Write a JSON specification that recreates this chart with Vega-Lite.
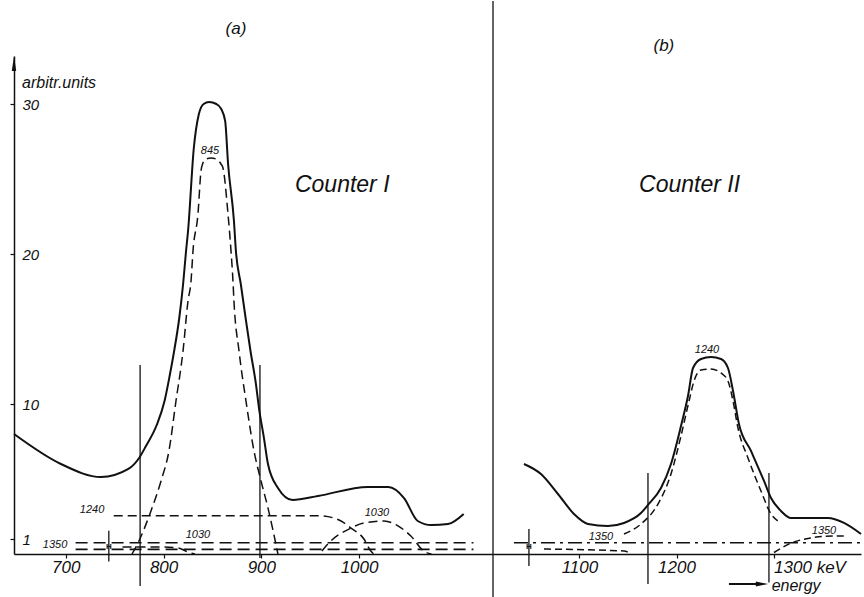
{
  "$schema": "https://vega.github.io/schema/vega-lite/v6.json",
  "background": "white",
  "padding": {"left": 9, "top": 0, "right": 0, "bottom": 0},
  "spacing": 0,
  "bounds": "flush",
  "config": {
    "view": {"stroke": null},
    "font": "Liberation Sans",
    "axis": {"grid": false, "domainColor": "#111", "domainWidth": 1.5, "tickColor": "#111", "tickWidth": 1.2, "labelColor": "#111", "labelFont": "Liberation Sans", "labelFontStyle": "italic", "title": null}
  },
  "datasets": {
    "a_lines": [
      {"s": "total", "x": 647, "y": 8.0}, {"s": "total", "x": 695, "y": 6.0}, {"s": "total", "x": 736, "y": 5.13},
      {"s": "total", "x": 764, "y": 5.67}, {"s": "total", "x": 775, "y": 6.4}, {"s": "total", "x": 782, "y": 7.2},
      {"s": "total", "x": 793, "y": 8.6}, {"s": "total", "x": 801, "y": 10.2}, {"s": "total", "x": 806, "y": 11.8}, {"s": "total", "x": 811, "y": 13.6},
      {"s": "total", "x": 816, "y": 15.7}, {"s": "total", "x": 820, "y": 18.0}, {"s": "total", "x": 823, "y": 20.2},
      {"s": "total", "x": 825, "y": 21.5}, {"s": "total", "x": 831, "y": 27.1}, {"s": "total", "x": 836, "y": 29.3},
      {"s": "total", "x": 841, "y": 30.0}, {"s": "total", "x": 846.5, "y": 30.13}, {"s": "total", "x": 854, "y": 30.0},
      {"s": "total", "x": 859, "y": 29.67}, {"s": "total", "x": 863, "y": 28.87}, {"s": "total", "x": 866, "y": 26.0},
      {"s": "total", "x": 872, "y": 22.2}, {"s": "total", "x": 874, "y": 20.2}, {"s": "total", "x": 879, "y": 18.0},
      {"s": "total", "x": 884, "y": 15.7}, {"s": "total", "x": 889, "y": 13.5}, {"s": "total", "x": 894.5, "y": 11.33},
      {"s": "total", "x": 897.6, "y": 9.73}, {"s": "total", "x": 902.7, "y": 7.73}, {"s": "total", "x": 906.8, "y": 6.0},
      {"s": "total", "x": 917, "y": 4.4}, {"s": "total", "x": 932, "y": 3.6}, {"s": "total", "x": 958, "y": 3.87},
      {"s": "total", "x": 1009, "y": 4.47}, {"s": "total", "x": 1030, "y": 4.47}, {"s": "total", "x": 1046, "y": 3.73},
      {"s": "total", "x": 1060, "y": 2.2}, {"s": "total", "x": 1074, "y": 1.93}, {"s": "total", "x": 1091, "y": 2.0},
      {"s": "total", "x": 1107, "y": 2.67},
      {"s": "c845", "x": 767.7, "y": 0}, {"s": "c845", "x": 773.8, "y": 0.73}, {"s": "c845", "x": 787.1, "y": 2.87},
      {"s": "c845", "x": 797.4, "y": 4.87}, {"s": "c845", "x": 805.5, "y": 6.87}, {"s": "c845", "x": 812.7, "y": 10.2},
      {"s": "c845", "x": 819.9, "y": 13.53}, {"s": "c845", "x": 825, "y": 16.87}, {"s": "c845", "x": 828.1, "y": 18.2},
      {"s": "c845", "x": 830.1, "y": 20.2}, {"s": "c845", "x": 835.2, "y": 22.67}, {"s": "c845", "x": 838.3, "y": 25.53},
      {"s": "c845", "x": 840.3, "y": 26.07}, {"s": "c845", "x": 843.4, "y": 26.33}, {"s": "c845", "x": 848.5, "y": 26.4},
      {"s": "c845", "x": 853.6, "y": 26.33}, {"s": "c845", "x": 858.7, "y": 26.0}, {"s": "c845", "x": 860.8, "y": 25.73},
      {"s": "c845", "x": 865.9, "y": 22.67}, {"s": "c845", "x": 869, "y": 20.2}, {"s": "c845", "x": 871, "y": 18.2},
      {"s": "c845", "x": 872, "y": 16.87}, {"s": "c845", "x": 877.2, "y": 13.53}, {"s": "c845", "x": 884.3, "y": 10.2},
      {"s": "c845", "x": 892.5, "y": 6.87}, {"s": "c845", "x": 899.7, "y": 4.87}, {"s": "c845", "x": 906.8, "y": 3.07},
      {"s": "c845", "x": 917, "y": 0},
      {"s": "c1240", "x": 749, "y": 2.55}, {"s": "c1240", "x": 850, "y": 2.55}, {"s": "c1240", "x": 960, "y": 2.55},
      {"s": "c1240", "x": 981.5, "y": 2.2}, {"s": "c1240", "x": 991.7, "y": 1.73}, {"s": "c1240", "x": 1005, "y": 1.0},
      {"s": "c1240", "x": 1012, "y": 0.2}, {"s": "c1240", "x": 1015, "y": 0},
      {"s": "c1030hi", "x": 962, "y": 0.2}, {"s": "c1030hi", "x": 969, "y": 0.73}, {"s": "c1030hi", "x": 991.7, "y": 1.73},
      {"s": "c1030hi", "x": 1005, "y": 2.07}, {"s": "c1030hi", "x": 1025.5, "y": 2.2}, {"s": "c1030hi", "x": 1039.8, "y": 1.87},
      {"s": "c1030hi", "x": 1053, "y": 1.2}, {"s": "c1030hi", "x": 1066, "y": 0.2}, {"s": "c1030hi", "x": 1074, "y": 0},
      {"s": "c1030lo", "x": 758, "y": 0.47}, {"s": "c1030lo", "x": 800, "y": 0.47}, {"s": "c1030lo", "x": 815, "y": 0.4},
      {"s": "c1030lo", "x": 825, "y": 0.13}, {"s": "c1030lo", "x": 832, "y": 0},
      {"s": "base1", "x": 710, "y": 0.75}, {"s": "base1", "x": 1117, "y": 0.75},
      {"s": "base2", "x": 710, "y": 0.31}, {"s": "base2", "x": 1117, "y": 0.31}
    ],
    "a_rules": [
      {"x": 776, "y": -2.13, "y2": 12.6},
      {"x": 898.6, "y": -0.27, "y2": 12.6},
      {"x": 744, "y": -0.5, "y2": 1.55}
    ],
    "a_text": [
      {"role": "small", "t": "845", "x": 847.5, "y": 26.9},
      {"role": "small", "t": "1240", "x": 726.8, "y": 2.93},
      {"role": "small", "t": "1350", "x": 689, "y": 0.6},
      {"role": "small", "t": "1030", "x": 835.2, "y": 1.27},
      {"role": "small", "t": "1030", "x": 1018.3, "y": 2.73},
      {"role": "h", "t": "H", "x": 744, "y": 0.45},
      {"role": "panel", "t": "(a)", "x": 874, "y": 35.03},
      {"role": "unit", "t": "arbitr.units", "x": 655.2, "y": 31.4},
      {"role": "counter", "t": "Counter I", "x": 934.4, "y": 24.6}
    ],
    "a_arrow": [{"x": 647, "y": 32.7}],
    "b_lines": [
      {"s": "total", "x": 1042.9, "y": 6.0}, {"s": "total", "x": 1060.4, "y": 5.33}, {"s": "total", "x": 1077.9, "y": 4.0},
      {"s": "total", "x": 1094.4, "y": 2.67}, {"s": "total", "x": 1108.8, "y": 2.0}, {"s": "total", "x": 1129.4, "y": 1.87},
      {"s": "total", "x": 1145.9, "y": 2.07}, {"s": "total", "x": 1163.4, "y": 2.73}, {"s": "total", "x": 1170.6, "y": 3.27},
      {"s": "total", "x": 1184, "y": 4.4}, {"s": "total", "x": 1194.3, "y": 6.0}, {"s": "total", "x": 1204.6, "y": 8.53},
      {"s": "total", "x": 1211.8, "y": 10.53}, {"s": "total", "x": 1217, "y": 12.4}, {"s": "total", "x": 1225.2, "y": 13.0},
      {"s": "total", "x": 1235.5, "y": 13.13}, {"s": "total", "x": 1245.8, "y": 13.0}, {"s": "total", "x": 1253, "y": 12.4},
      {"s": "total", "x": 1258.2, "y": 10.87}, {"s": "total", "x": 1264.3, "y": 8.67}, {"s": "total", "x": 1276.7, "y": 6.87},
      {"s": "total", "x": 1290.1, "y": 4.87}, {"s": "total", "x": 1297.3, "y": 3.73}, {"s": "total", "x": 1307.6, "y": 2.87},
      {"s": "total", "x": 1317.9, "y": 2.4}, {"s": "total", "x": 1335.4, "y": 2.4}, {"s": "total", "x": 1356, "y": 2.4},
      {"s": "total", "x": 1372.5, "y": 2.07}, {"s": "total", "x": 1390, "y": 1.33},
      {"s": "c1240", "x": 1145.9, "y": 1.33}, {"s": "c1240", "x": 1163.4, "y": 2.0}, {"s": "c1240", "x": 1180.9, "y": 3.33},
      {"s": "c1240", "x": 1194.3, "y": 5.33}, {"s": "c1240", "x": 1204.6, "y": 7.87}, {"s": "c1240", "x": 1212.9, "y": 10.2},
      {"s": "c1240", "x": 1218, "y": 11.53}, {"s": "c1240", "x": 1225.2, "y": 12.27}, {"s": "c1240", "x": 1235.5, "y": 12.33},
      {"s": "c1240", "x": 1245.8, "y": 12.07}, {"s": "c1240", "x": 1253, "y": 11.53}, {"s": "c1240", "x": 1258.2, "y": 10.2},
      {"s": "c1240", "x": 1263.3, "y": 8.4}, {"s": "c1240", "x": 1273.6, "y": 6.4}, {"s": "c1240", "x": 1287, "y": 4.2},
      {"s": "c1240", "x": 1297.3, "y": 2.67}, {"s": "c1240", "x": 1304.5, "y": 2.2},
      {"s": "lvl1350", "x": 1032.6, "y": 0.75}, {"s": "lvl1350", "x": 1390, "y": 0.75},
      {"s": "c1350l", "x": 1063.5, "y": 0.33}, {"s": "c1350l", "x": 1145.9, "y": 0.2}, {"s": "c1350l", "x": 1153, "y": 0},
      {"s": "c1350r", "x": 1300.4, "y": 0.1}, {"s": "c1350r", "x": 1317.9, "y": 0.73}, {"s": "c1350r", "x": 1338.5, "y": 1.07},
      {"s": "c1350r", "x": 1361, "y": 1.2}, {"s": "c1350r", "x": 1376, "y": 1.2}
    ],
    "b_rules": [
      {"x": 1011, "y": -2.93, "y2": 36.87},
      {"x": 1170.6, "y": -2.0, "y2": 5.4},
      {"x": 1295.2, "y": -1.9, "y2": 5.4},
      {"x": 1048, "y": -0.8, "y2": 1.67}
    ],
    "b_text": [
      {"role": "small", "t": "1240", "x": 1231.4, "y": 13.6},
      {"role": "small", "t": "1350", "x": 1122.2, "y": 1.13},
      {"role": "small", "t": "1350", "x": 1351.9, "y": 1.53},
      {"role": "h", "t": "H", "x": 1048, "y": 0.45},
      {"role": "panel", "t": "(b)", "x": 1187, "y": 33.9},
      {"role": "counter", "t": "Counter II", "x": 1161.4, "y": 24.6},
      {"role": "energy", "t": "energy", "x": 1298, "y": -2.1}
    ],
    "b_shaft": [{"x": 1254, "x2": 1285, "y": -2.0}],
    "b_head": [{"x": 1288, "y": -2.0}]
  },
  "hconcat": [
    {
      "width": 479,
      "height": 498,
      "encoding": {
        "x": {"field": "x", "type": "quantitative", "scale": {"domain": [647, 1137], "nice": false, "zero": false},
          "axis": {"values": [700, 800, 900, 1000], "format": "d", "labelFlush": false, "labelOverlap": false, "tickSize": 4, "labelPadding": 1, "labelFontSize": 17}},
        "y": {"field": "y", "type": "quantitative", "scale": {"domain": [0, 33.2], "nice": false, "zero": false},
          "axis": {"values": [1, 10, 20, 30], "format": "d", "labelAlign": "left", "labelPadding": -12, "tickSize": 4, "labelFontSize": 15, "labelFlush": false, "labelOverlap": false}}
      },
      "layer": [
        {"data": {"name": "a_lines"}, "transform": [{"filter": "datum.s == 'total'"}],
          "mark": {"type": "line", "interpolate": "monotone", "color": "#111", "strokeWidth": 2},
          "encoding": {"detail": {"field": "s"}}},
        {"data": {"name": "a_lines"}, "transform": [{"filter": "datum.s == 'c845' || datum.s == 'c1240' || datum.s == 'c1030hi' || datum.s == 'c1030lo'"}],
          "mark": {"type": "line", "interpolate": "monotone", "color": "#111", "strokeWidth": 1.5, "strokeDash": [9, 5]},
          "encoding": {"detail": {"field": "s"}}},
        {"data": {"name": "a_lines"}, "transform": [{"filter": "datum.s == 'base1' || datum.s == 'base2'"}],
          "mark": {"type": "line", "color": "#111", "strokeWidth": 1.6, "strokeDash": [12, 6]},
          "encoding": {"detail": {"field": "s"}}},
        {"data": {"name": "a_rules"}, "mark": {"type": "rule", "color": "#111", "strokeWidth": 1.3},
          "encoding": {"y2": {"field": "y2"}}},
        {"data": {"name": "a_arrow"}, "mark": {"type": "point", "shape": "M0,-1L0.3,1L-0.3,1Z", "size": 220, "filled": true, "color": "#111", "opacity": 1},
          "encoding": {}},
        {"data": {"name": "a_text"}, "transform": [{"filter": "datum.role == 'small'"}],
          "mark": {"type": "text", "fontSize": 11, "fontStyle": "italic", "letterSpacing": 1, "color": "#111", "baseline": "middle", "align": "center"},
          "encoding": {"text": {"field": "t"}}},
        {"data": {"name": "a_text"}, "transform": [{"filter": "datum.role == 'h'"}],
          "mark": {"type": "text", "fontSize": 8, "fontWeight": "bold", "color": "#111", "baseline": "middle", "align": "center"},
          "encoding": {"text": {"field": "t"}}},
        {"data": {"name": "a_text"}, "transform": [{"filter": "datum.role == 'panel'"}],
          "mark": {"type": "text", "fontSize": 17, "fontStyle": "italic", "color": "#111", "baseline": "middle", "align": "center"},
          "encoding": {"text": {"field": "t"}}},
        {"data": {"name": "a_text"}, "transform": [{"filter": "datum.role == 'unit'"}],
          "mark": {"type": "text", "fontSize": 16, "fontStyle": "italic", "letterSpacing": 1, "color": "#111", "baseline": "middle", "align": "left"},
          "encoding": {"text": {"field": "t"}}},
        {"data": {"name": "a_text"}, "transform": [{"filter": "datum.role == 'counter'"}],
          "mark": {"type": "text", "fontSize": 23, "fontStyle": "italic", "letterSpacing": 1.5, "color": "#111", "baseline": "middle", "align": "left"},
          "encoding": {"text": {"field": "t"}}}
      ]
    },
    {
      "width": 368,
      "height": 498,
      "encoding": {
        "x": {"field": "x", "type": "quantitative", "scale": {"domain": [1011, 1390], "nice": false, "zero": false},
          "axis": {"values": [1100, 1200, 1300], "format": "d", "labelExpr": "datum.value == 1300 ? '1300 keV' : datum.label",
            "labelAlign": {"condition": {"test": "datum.value == 1300", "value": "left"}, "value": "center"},
            "labelFlush": false, "labelOverlap": false, "tickSize": 4, "labelPadding": 1, "labelFontSize": 17}},
        "y": {"field": "y", "type": "quantitative", "scale": {"domain": [0, 33.2], "nice": false, "zero": false}, "axis": null}
      },
      "layer": [
        {"data": {"name": "b_lines"}, "transform": [{"filter": "datum.s == 'total'"}],
          "mark": {"type": "line", "interpolate": "monotone", "color": "#111", "strokeWidth": 2},
          "encoding": {"detail": {"field": "s"}}},
        {"data": {"name": "b_lines"}, "transform": [{"filter": "datum.s == 'c1240' || datum.s == 'c1350l' || datum.s == 'c1350r'"}],
          "mark": {"type": "line", "interpolate": "monotone", "color": "#111", "strokeWidth": 1.5, "strokeDash": [7, 4]},
          "encoding": {"detail": {"field": "s"}}},
        {"data": {"name": "b_lines"}, "transform": [{"filter": "datum.s == 'lvl1350'"}],
          "mark": {"type": "line", "color": "#111", "strokeWidth": 1.5, "strokeDash": [14, 5, 3, 5]},
          "encoding": {"detail": {"field": "s"}}},
        {"data": {"name": "b_rules"}, "mark": {"type": "rule", "color": "#111", "strokeWidth": 1.3},
          "encoding": {"y2": {"field": "y2"}}},
        {"data": {"name": "b_shaft"}, "mark": {"type": "rule", "color": "#111", "strokeWidth": 2},
          "encoding": {"x2": {"field": "x2"}}},
        {"data": {"name": "b_head"}, "mark": {"type": "point", "shape": "M1,0L-1,0.4L-1,-0.4Z", "size": 150, "filled": true, "color": "#111", "opacity": 1},
          "encoding": {}},
        {"data": {"name": "b_text"}, "transform": [{"filter": "datum.role == 'small'"}],
          "mark": {"type": "text", "fontSize": 11, "fontStyle": "italic", "letterSpacing": 1, "color": "#111", "baseline": "middle", "align": "center"},
          "encoding": {"text": {"field": "t"}}},
        {"data": {"name": "b_text"}, "transform": [{"filter": "datum.role == 'h'"}],
          "mark": {"type": "text", "fontSize": 8, "fontWeight": "bold", "color": "#111", "baseline": "middle", "align": "center"},
          "encoding": {"text": {"field": "t"}}},
        {"data": {"name": "b_text"}, "transform": [{"filter": "datum.role == 'panel'"}],
          "mark": {"type": "text", "fontSize": 17, "fontStyle": "italic", "color": "#111", "baseline": "middle", "align": "center"},
          "encoding": {"text": {"field": "t"}}},
        {"data": {"name": "b_text"}, "transform": [{"filter": "datum.role == 'counter'"}],
          "mark": {"type": "text", "fontSize": 23, "fontStyle": "italic", "letterSpacing": 1.5, "color": "#111", "baseline": "middle", "align": "left"},
          "encoding": {"text": {"field": "t"}}},
        {"data": {"name": "b_text"}, "transform": [{"filter": "datum.role == 'energy'"}],
          "mark": {"type": "text", "fontSize": 16, "fontStyle": "italic", "letterSpacing": 0.5, "color": "#111", "baseline": "middle", "align": "left"},
          "encoding": {"text": {"field": "t"}}}
      ]
    }
  ]
}
